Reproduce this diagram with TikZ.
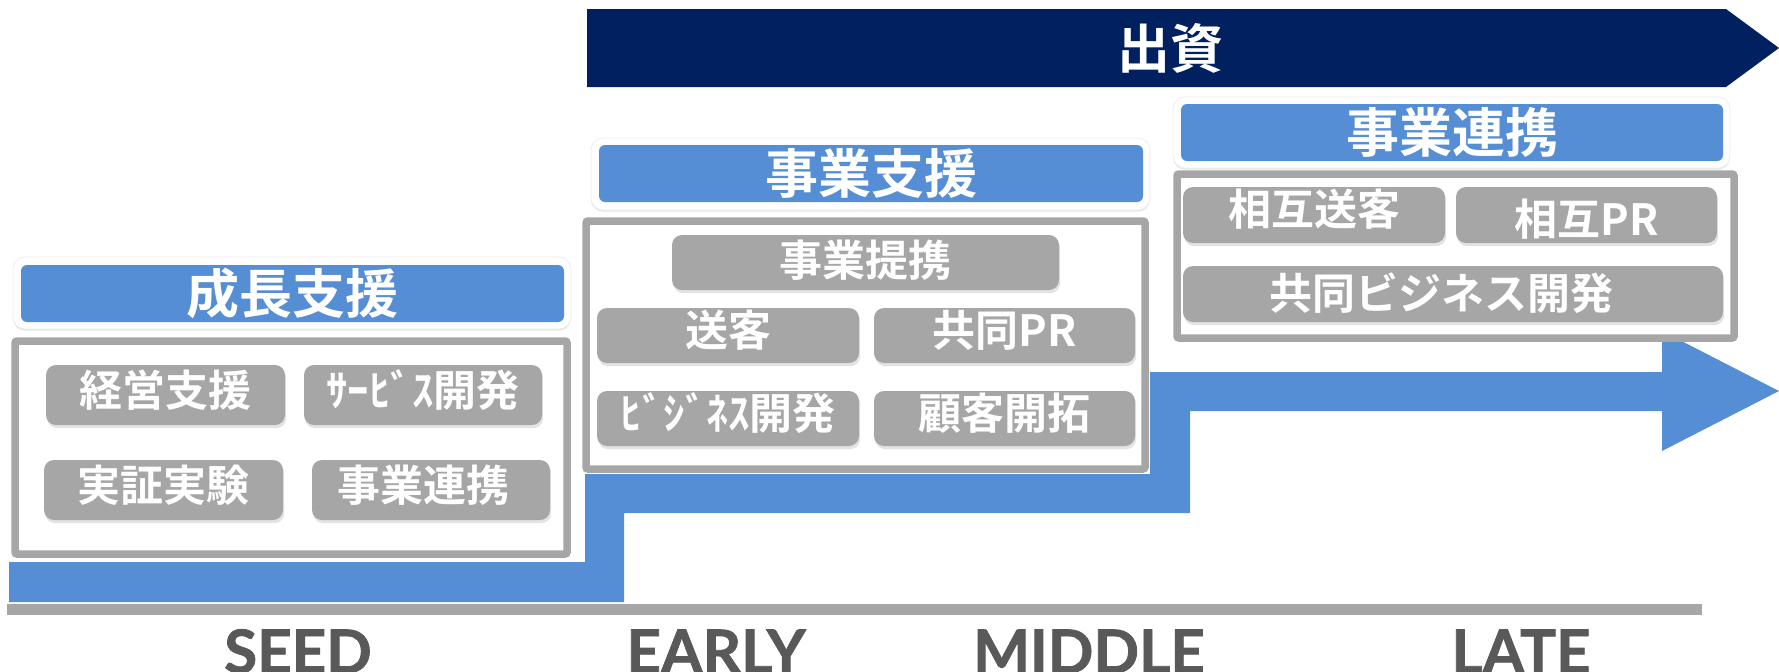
\documentclass[tikz,border=0pt]{standalone}
\usepackage{fontspec}
\newfontfamily\jpfont{Noto Sans CJK JP}[BoldFont={Noto Sans CJK JP Bold}]
\newfontfamily\stagefont{Lato}[BoldFeatures={FakeBold=1.3}]
\usetikzlibrary{shadows}
\definecolor{navy}{HTML}{002060}
\definecolor{stepblue}{HTML}{558ED5}
\definecolor{boxgray}{HTML}{A6A6A6}
\definecolor{labelgray}{HTML}{595959}
\tikzset{
  groupframe/.style={draw=boxgray, line width=3.75pt, fill=white, rounded corners=1pt},
  headouter/.style={fill=white, draw=black!7, line width=0.4pt, rounded corners=6pt, drop shadow={shadow xshift=0pt, shadow yshift=-0.8pt, opacity=0.2}},
  headinner/.style={fill=stepblue, rounded corners=3pt},
  headtext/.style={text=white, font=\jpfont\bfseries\fontsize{26.5pt}{30pt}\selectfont},
  itembox/.style={fill=boxgray, rounded corners=5pt, drop shadow={shadow xshift=0.6pt, shadow yshift=-1.6pt, opacity=0.22}},
  itemtext/.style={text=white, font=\jpfont\bfseries\fontsize{21.5pt}{24pt}\selectfont, yshift=2.5pt},
  stagetext/.style={text=labelgray, anchor=base, font=\stagefont\bfseries\fontsize{30pt}{34pt}\selectfont}
}
\begin{document}
\begin{tikzpicture}[x=0.5pt, y=-0.5pt]
  \useasboundingbox (0,0) rectangle (1779,671);
  \fill[boxgray] (7,604) rectangle (1702,615);
  \fill[stepblue] (9,562) -- (585,562) -- (585,474) -- (1150,474) -- (1150,372) -- (1662,372) -- (1662,331) -- (1779,391) -- (1662,451) -- (1662,411) -- (1190,411) -- (1190,513) -- (624,513) -- (624,602) -- (9,602) -- cycle;
  \fill[navy] (587,9) -- (1726,9) -- (1779,48) -- (1726,87) -- (587,87) -- cycle;
  \node[headtext] (invest) at (1170,48) {出資};

  \path[headouter] (13,257) rectangle (571,329);
  \path[headinner] (21,265) rectangle node[headtext] (seedhead) {成長支援} (564,322);
  \path[groupframe] (15,341) rectangle (567,554);
  \path[itembox] (46,365) rectangle node[itemtext] (keiei) {経営支援} (285,425);
  \path[itembox] (304,365) rectangle node[itemtext] (service) {ｻｰﾋﾞｽ開発} (542,425);
  \path[itembox] (44,460) rectangle node[itemtext] (jissho) {実証実験} (283,520);
  \path[itembox] (312,460) rectangle node[itemtext, xshift=-4pt] (seedrenkei) {事業連携} (550,520);

  \path[headouter] (591,138) rectangle (1150,210);
  \path[headinner] (599,145) rectangle node[headtext] (earlyhead) {事業支援} (1143,202);
  \path[groupframe] (586,221) rectangle (1145,469);
  \path[itembox] (672,235) rectangle node[itemtext, yshift=-1.5pt] (teikei) {事業提携} (1059,290);
  \path[itembox] (597,308) rectangle node[itemtext] (sokyaku) {送客} (859,363);
  \path[itembox] (874,308) rectangle node[itemtext] (kyodopr) {共同PR} (1135,363);
  \path[itembox] (597,391) rectangle node[itemtext] (business) {ﾋﾞｼﾞﾈｽ開発} (859,446);
  \path[itembox] (874,391) rectangle node[itemtext] (kaitaku) {顧客開拓} (1135,446);

  \path[headouter] (1173,97) rectangle (1730,168);
  \path[headinner] (1181,104) rectangle node[headtext] (latehead) {事業連携} (1723,161);
  \path[groupframe] (1177,174) rectangle (1734,338);
  \path[itembox] (1183,187) rectangle node[itemtext, yshift=0.5pt] (sogososhu) {相互送客} (1445,243);
  \path[itembox] (1456,187) rectangle node[itemtext, yshift=-4.5pt] (sogopr) {相互PR} (1717,243);
  \path[itembox] (1183,266) rectangle node[itemtext, yshift=-2pt, xshift=-6pt] (kyodobiz) {共同ビジネス開発} (1723,322);

  \node[stagetext] (seed) at (298,673) {SEED};
  \node[stagetext] (early) at (716,673) {EARLY};
  \node[stagetext] (middle) at (1089,673) {MIDDLE};
  \node[stagetext] (late) at (1521,673) {LATE};
\end{tikzpicture}
\end{document}
